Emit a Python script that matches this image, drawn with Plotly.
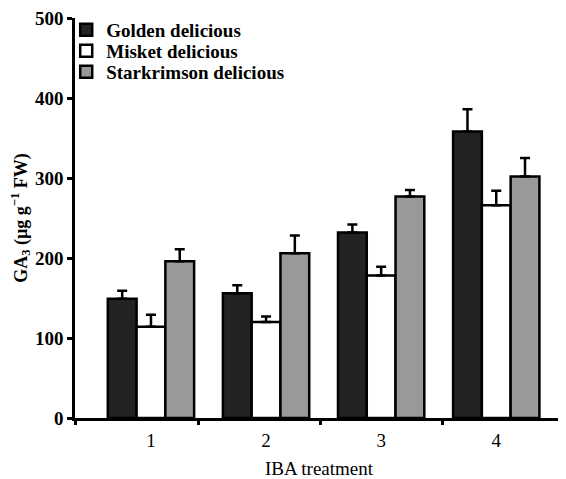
import plotly.graph_objects as go

treatments = [1, 2, 3, 4]
tick_labels = ["1", "2", "3", "4"]
series_names = ["Golden delicious", "Misket delicious", "Starkrimson delicious"]
golden = [149, 156, 232, 358]
golden_err = [10, 10, 10, 28]
misket = [114, 120, 178, 266]
misket_err = [15, 7, 11, 18]
stark = [196, 206, 277, 302]
stark_err = [15, 22, 8, 23]
group_boundaries = [1.41, 2.47, 3.53]
y_ticks = [0, 100, 200, 300, 400, 500]

colors = ["#222222", "#ffffff", "#999999"]
values = [golden, misket, stark]
errors = [golden_err, misket_err, stark_err]
legend_ids = ["legend", "legend2", "legend3"]
legend_y = [0.97, 0.9175, 0.865]

fig = go.Figure()
for name, vals, errs, col, lg in zip(series_names, values, errors, colors, legend_ids):
    fig.add_trace(go.Bar(
        x=treatments, y=vals, name=name, legend=lg,
        marker=dict(color=col, line=dict(color="black", width=2.5)),
        error_y=dict(type="data", array=errs, arrayminus=[0] * len(errs), symmetric=False,
                     color="black", thickness=2.5, width=5),
    ))

font_family = "Liberation Serif"
xr = [0.34, 4.58]

# invisible trace on overlay axis for boundary ticks
fig.add_trace(go.Scatter(x=[xr[0]] + group_boundaries, y=[0] * (len(group_boundaries) + 1), xaxis="x2",
                         mode="markers", marker=dict(opacity=0), showlegend=False, hoverinfo="skip"))

legend_font = dict(family=font_family, size=19, color="black", weight="bold")
legends = {}
for lg, ly in zip(legend_ids, legend_y):
    legends[lg] = dict(x=-0.018, y=ly, xanchor="left", yanchor="middle", bgcolor="rgba(0,0,0,0)",
                       font=legend_font, itemwidth=30)

fig.update_layout(
    width=558, height=471,
    margin=dict(l=67, r=3, t=10, b=61),
    paper_bgcolor="white", plot_bgcolor="white",
    barmode="group", bargap=0.25, bargroupgap=0,
    font=dict(family=font_family, color="black", size=19),
    showlegend=True,
    **legends,
    xaxis=dict(range=xr, tickvals=treatments, ticktext=tick_labels, ticks="", automargin=False,
               showline=True, linecolor="black", linewidth=2.5, showgrid=False, zeroline=False,
               ticklabelstandoff=3, ticklabeloverflow="allow",
               tickfont=dict(family=font_family, size=19, color="black"),
               title=dict(text="IBA treatment", font=dict(family=font_family, size=19, color="black"),
                          standoff=19)),
    xaxis2=dict(range=xr, overlaying="x", anchor="y", side="bottom", tickvals=[xr[0]] + group_boundaries,
                showticklabels=False, ticks="outside", ticklen=6, tickwidth=2.5, tickcolor="black",
                showline=False, showgrid=False, zeroline=False, automargin=False),
    yaxis=dict(range=[0, 500], tickvals=y_ticks, ticks="outside", ticklen=5, tickwidth=2.5,
               tickcolor="black", showline=True, linecolor="black", linewidth=2.5,
               showgrid=False, zeroline=False, automargin=False, ticklabeloverflow="allow",
               tickfont=dict(family=font_family, size=19, color="black", weight="bold"),
               title=dict(text="GA<sub>3</sub> (µg g<sup>−1</sup> FW)",
                          font=dict(family=font_family, size=18, color="black", weight="bold"),
                          standoff=6)),
)

fig.write_html("out.html")
